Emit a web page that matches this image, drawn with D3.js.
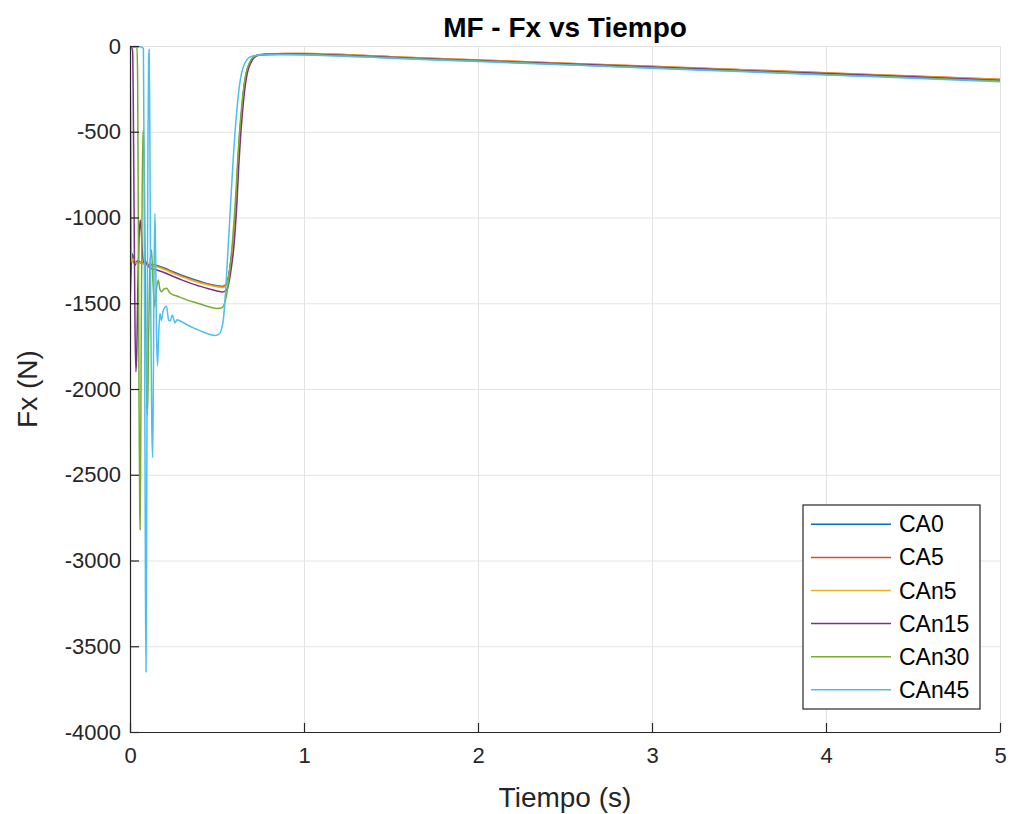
<!DOCTYPE html>
<html>
<head>
<meta charset="utf-8">
<script src="https://cdn.jsdelivr.net/npm/d3@7"></script>
<style>
  html, body { margin: 0; padding: 0; background: #ffffff; }
  svg { display: block; font-family: "Liberation Sans", Arial, Helvetica, sans-serif; }
</style>
</head>
<body>
<svg id="chart" width="1010" height="814"></svg>
<script>
// Fx force history, pairs of [time (s), Fx (N)] for each configuration
const ca0 = [[0,-1510],[0.004,-1390],[0.008,-1260],[0.012,-1212],[0.017,-1222],[0.023,-1262],[0.03,-1278],[0.038,-1258],[0.047,-1252],[0.06,-1264],[0.08,-1268],[0.1,-1272],[0.15,-1278],[0.2,-1296],[0.25,-1318],[0.3,-1338],[0.35,-1356],[0.4,-1372],[0.45,-1387],[0.5,-1398],[0.53,-1402],[0.55,-1393],[0.565,-1350],[0.58,-1252],[0.59,-1170],[0.6,-1060],[0.61,-900],[0.62,-690],[0.63,-525],[0.64,-400],[0.65,-292],[0.66,-208],[0.67,-152],[0.69,-96],[0.71,-66],[0.74,-53],[0.8,-49],[0.9,-47],[1,-48],[1.5,-67],[2,-86],[2.5,-105],[3,-125],[3.5,-144],[4,-163],[4.5,-182],[5,-201]];

const ca5 = [[0,0],[0.002,-350],[0.005,-950],[0.008,-1225],[0.012,-1250],[0.018,-1238],[0.026,-1258],[0.035,-1262],[0.05,-1258],[0.08,-1268],[0.1,-1274],[0.15,-1282],[0.2,-1300],[0.25,-1322],[0.3,-1342],[0.35,-1360],[0.4,-1376],[0.45,-1390],[0.5,-1400],[0.53,-1404],[0.55,-1396],[0.565,-1355],[0.58,-1260],[0.59,-1180],[0.6,-1070],[0.61,-912],[0.62,-700],[0.63,-535],[0.64,-408],[0.65,-298],[0.66,-212],[0.67,-155],[0.69,-97],[0.71,-65],[0.74,-51],[0.8,-45],[0.9,-43],[1,-43],[1.5,-62],[2,-81],[2.5,-100],[3,-118],[3.5,-137],[4,-156],[4.5,-175],[5,-194]];

const can5 = [[0,0],[0.003,-450],[0.006,-1050],[0.009,-1245],[0.013,-1262],[0.019,-1240],[0.027,-1256],[0.036,-1266],[0.05,-1262],[0.08,-1272],[0.1,-1278],[0.15,-1286],[0.2,-1304],[0.25,-1326],[0.3,-1346],[0.35,-1364],[0.4,-1380],[0.45,-1393],[0.5,-1404],[0.53,-1408],[0.55,-1400],[0.565,-1360],[0.58,-1266],[0.59,-1186],[0.6,-1078],[0.61,-920],[0.62,-710],[0.63,-542],[0.64,-412],[0.65,-300],[0.66,-214],[0.67,-156],[0.69,-98],[0.71,-66],[0.74,-52],[0.8,-46],[0.9,-44],[1,-44],[1.5,-63],[2,-82],[2.5,-101],[3,-120],[3.5,-139],[4,-158],[4.5,-177],[5,-196]];

const can15 = [[0,0],[0.008,-5],[0.015,-30],[0.019,-350],[0.024,-1050],[0.029,-1650],[0.034,-1900],[0.039,-1780],[0.045,-1400],[0.052,-1120],[0.059,-1015],[0.065,-1080],[0.071,-1200],[0.078,-1262],[0.086,-1250],[0.095,-1268],[0.11,-1290],[0.15,-1305],[0.2,-1322],[0.25,-1344],[0.3,-1365],[0.35,-1384],[0.4,-1400],[0.45,-1415],[0.5,-1428],[0.53,-1434],[0.55,-1428],[0.565,-1395],[0.58,-1310],[0.595,-1190],[0.605,-1070],[0.615,-905],[0.625,-700],[0.635,-535],[0.645,-405],[0.655,-296],[0.665,-212],[0.675,-155],[0.695,-97],[0.715,-66],[0.745,-53],[0.8,-48],[0.9,-46],[1,-47],[1.5,-66],[2,-85],[2.5,-104],[3,-123],[3.5,-142],[4,-161],[4.5,-180],[5,-199]];

const can30 = [[0,0],[0.02,-5],[0.04,-10],[0.044,-200],[0.048,-1100],[0.052,-2100],[0.056,-2700],[0.058,-2820],[0.061,-2450],[0.065,-1600],[0.07,-850],[0.075,-520],[0.078,-490],[0.083,-800],[0.09,-1600],[0.097,-2100],[0.101,-2150],[0.107,-1700],[0.116,-1250],[0.124,-1190],[0.132,-1380],[0.142,-1520],[0.152,-1420],[0.163,-1364],[0.172,-1420],[0.182,-1433],[0.195,-1418],[0.21,-1413],[0.23,-1440],[0.28,-1462],[0.33,-1482],[0.38,-1497],[0.42,-1510],[0.46,-1522],[0.5,-1530],[0.525,-1528],[0.545,-1495],[0.56,-1420],[0.575,-1290],[0.588,-1150],[0.6,-990],[0.61,-830],[0.62,-640],[0.63,-490],[0.64,-372],[0.65,-272],[0.66,-196],[0.67,-145],[0.69,-92],[0.71,-64],[0.74,-53],[0.8,-50],[0.9,-49],[1,-50],[1.5,-69],[2,-88],[2.5,-108],[3,-127],[3.5,-146],[4,-166],[4.5,-185],[5,-204]];

const can45 = [[0,0],[0.03,-8],[0.06,-4],[0.077,-15],[0.081,-700],[0.085,-2000],[0.089,-3200],[0.092,-3650],[0.095,-3000],[0.099,-1700],[0.103,-600],[0.107,-80],[0.11,-20],[0.114,-500],[0.119,-1500],[0.125,-2200],[0.13,-2400],[0.134,-2000],[0.138,-1350],[0.143,-975],[0.147,-1200],[0.152,-1650],[0.158,-1865],[0.164,-1700],[0.172,-1560],[0.18,-1600],[0.19,-1545],[0.2,-1525],[0.21,-1518],[0.222,-1598],[0.232,-1602],[0.242,-1568],[0.25,-1588],[0.259,-1615],[0.27,-1596],[0.287,-1602],[0.33,-1627],[0.38,-1650],[0.42,-1668],[0.46,-1682],[0.49,-1688],[0.51,-1682],[0.525,-1655],[0.537,-1590],[0.548,-1450],[0.558,-1280],[0.567,-1120],[0.576,-960],[0.585,-800],[0.595,-630],[0.605,-485],[0.615,-365],[0.625,-265],[0.635,-190],[0.65,-125],[0.67,-82],[0.7,-60],[0.75,-53],[0.85,-50],[1,-52],[1.5,-71],[2,-91],[2.5,-110],[3,-130],[3.5,-149],[4,-169],[4.5,-188],[5,-208]];

const seriesNames = ["CA0", "CA5", "CAn5", "CAn15", "CAn30", "CAn45"];
const seriesData = [ca0, ca5, can5, can15, can30, can45];

const xTicks = [0, 1, 2, 3, 4, 5];
const yTicks = [0, -500, -1000, -1500, -2000, -2500, -3000, -3500, -4000];

const titleText = "MF - Fx vs Tiempo";
const xLabel = "Tiempo (s)";
const yLabel = "Fx (N)";

// styling
const colors = ["#0072BD", "#D95319", "#EDB120", "#7E2F8E", "#77AC30", "#4DBEEE"];
const ink = "#262626";
const gridColor = "#e3e3e3";

const plot = { left: 130, right: 1000, top: 46, bottom: 732 };

const svg = d3.select("#chart");

const x = d3.scaleLinear().domain([0, 5]).range([plot.left, plot.right]);
const y = d3.scaleLinear().domain([-4000, 0]).range([plot.bottom, plot.top]);

// plain hyphen-minus tick labels
const tickFmt = d => String(d);

// grid
const grid = svg.append("g");
grid.append("g")
  .attr("transform", `translate(0,${plot.bottom})`)
  .call(d3.axisBottom(x).tickValues(xTicks).tickSize(-(plot.bottom - plot.top)).tickFormat(""))
  .call(g => g.select(".domain").remove())
  .call(g => g.selectAll("line").attr("stroke", gridColor).attr("stroke-width", 1));
grid.append("g")
  .attr("transform", `translate(${plot.left},0)`)
  .call(d3.axisLeft(y).tickValues(yTicks).tickSize(-(plot.right - plot.left)).tickFormat(""))
  .call(g => g.select(".domain").remove())
  .call(g => g.selectAll("line").attr("stroke", gridColor).attr("stroke-width", 1));

// clip region for the data lines
svg.append("defs").append("clipPath").attr("id", "plotClip")
  .append("rect")
  .attr("x", plot.left).attr("y", plot.top)
  .attr("width", plot.right - plot.left).attr("height", plot.bottom - plot.top);

const line = d3.line()
  .x(d => x(d[0]))
  .y(d => y(d[1]))
  .curve(d3.curveMonotoneX);

const lines = svg.append("g").attr("clip-path", "url(#plotClip)");
seriesData.forEach((data, i) => {
  lines.append("path")
    .datum(data)
    .attr("fill", "none")
    .attr("stroke", colors[i])
    .attr("stroke-width", 1.5)
    .attr("stroke-linejoin", "round")
    .attr("d", line);
});

// axes with inward ticks
const xAxis = svg.append("g")
  .attr("transform", `translate(0,${plot.bottom})`)
  .call(d3.axisBottom(x).tickValues(xTicks).tickSize(-9).tickSizeOuter(0).tickPadding(15).tickFormat(tickFmt));
const yAxis = svg.append("g")
  .attr("transform", `translate(${plot.left},0)`)
  .call(d3.axisLeft(y).tickValues(yTicks).tickSize(-9).tickSizeOuter(0).tickPadding(9).tickFormat(tickFmt));

[xAxis, yAxis].forEach(ax => {
  ax.select(".domain").attr("stroke", ink).attr("stroke-width", 1.2);
  ax.selectAll(".tick line").attr("stroke", ink).attr("stroke-width", 1.2);
  ax.selectAll(".tick text")
    .attr("fill", ink)
    .style("font-family", "'Liberation Sans', Arial, sans-serif")
    .style("font-size", "22px");
});

// title and axis labels
svg.append("text")
  .attr("x", (plot.left + plot.right) / 2)
  .attr("y", 37)
  .attr("text-anchor", "middle")
  .attr("fill", "#000")
  .style("font-size", "28px")
  .style("font-weight", "bold")
  .text(titleText);

svg.append("text")
  .attr("x", (plot.left + plot.right) / 2)
  .attr("y", 807)
  .attr("text-anchor", "middle")
  .attr("fill", ink)
  .style("font-size", "28px")
  .text(xLabel);

svg.append("text")
  .attr("transform", `translate(37,${(plot.top + plot.bottom) / 2}) rotate(-90)`)
  .attr("text-anchor", "middle")
  .attr("fill", ink)
  .style("font-size", "28px")
  .text(yLabel);

// legend
const legend = svg.append("g");
const lg = { x: 803, y: 505, w: 177, h: 204, row0: 524.3, rowStep: 33.1 };
legend.append("rect")
  .attr("x", lg.x).attr("y", lg.y).attr("width", lg.w).attr("height", lg.h)
  .attr("fill", "#fff").attr("stroke", ink).attr("stroke-width", 1.2);
seriesNames.forEach((name, i) => {
  const cy = lg.row0 + i * lg.rowStep;
  legend.append("line")
    .attr("x1", 811).attr("x2", 891).attr("y1", cy).attr("y2", cy)
    .attr("stroke", colors[i]).attr("stroke-width", 1.5);
  legend.append("text")
    .attr("x", 899).attr("y", cy + 8)
    .attr("fill", "#000")
    .style("font-size", "23px")
    .text(name);
});
</script>
</body>
</html>
